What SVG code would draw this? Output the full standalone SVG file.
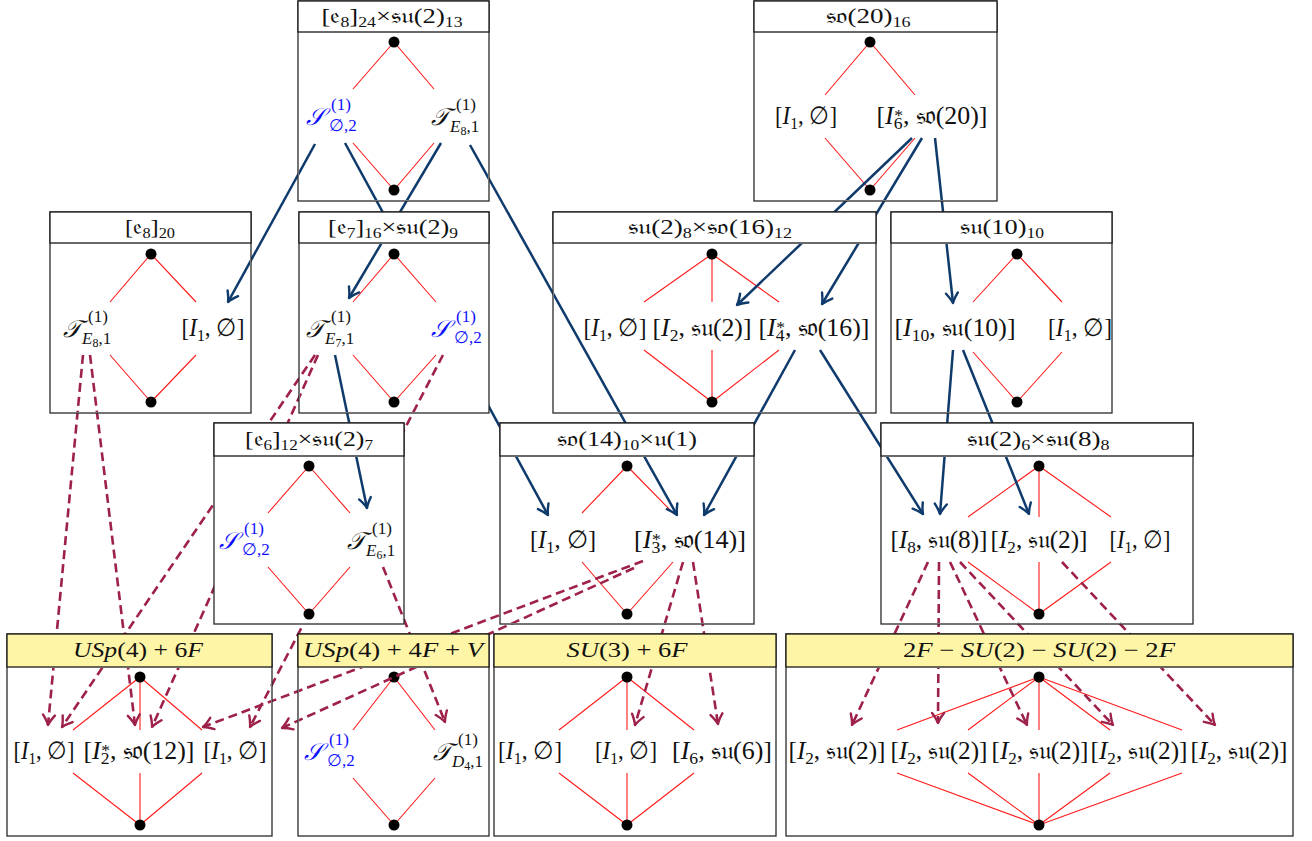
<svg xmlns="http://www.w3.org/2000/svg" width="1312" height="841" viewBox="0 0 1312 841">
<defs>
<style>
.bx{fill:#fff;stroke:#2a2a2a;stroke-width:1.3}
.hb{fill:#fff;stroke:#1a1a1a;stroke-width:1.3}
.hy{fill:#fff5a6;stroke:#1a1a1a;stroke-width:1.3}
.rl{stroke:#ff1a1a;stroke-width:1.1;fill:none}
.dt{fill:#000}
text{font-family:"Liberation Serif","DejaVu Serif",serif;fill:#111}
.hd{font-size:21px;text-anchor:middle}
.lb{font-size:25px;text-anchor:middle}
.i{font-style:italic}
.s{font-size:14px}
.ss{font-size:17px}
.me{font-size:24px;font-style:italic;text-anchor:end}
.sc{font-size:17px;text-anchor:start}
.bl{fill:#1010ff}
.cb{stroke:#0f3a6c;stroke-width:2.5;fill:none;marker-end:url(#ahb)}
.cd{stroke:#9d2148;stroke-width:2.6;fill:none;stroke-dasharray:9 5;marker-end:url(#ahd)}
</style>
<marker id="ahb" markerUnits="userSpaceOnUse" orient="auto" overflow="visible" refX="0" refY="0" markerWidth="14" markerHeight="14">
<path d="M-10,-6 Q-4,-1.5 0,0 Q-4,1.5 -10,6" fill="none" stroke="#0f3a6c" stroke-width="2.4" stroke-linecap="round" stroke-linejoin="round"/>
</marker>
<marker id="ahd" markerUnits="userSpaceOnUse" orient="auto" overflow="visible" refX="0" refY="0" markerWidth="14" markerHeight="14">
<path d="M-10,-6 Q-4,-1.5 0,0 Q-4,1.5 -10,6" fill="none" stroke="#9d2148" stroke-width="2.4" stroke-linecap="round" stroke-linejoin="round"/>
</marker>
<clipPath id="cpAll">
<rect x="299" y="33" width="189" height="167"/>
<rect x="755" y="33" width="241" height="167"/>
<rect x="51" y="244" width="199" height="168"/>
<rect x="554" y="244" width="321" height="168"/>
<rect x="892" y="244" width="219" height="168"/>
<rect x="501" y="457" width="252" height="166"/>
<rect x="882" y="457" width="310" height="166"/>
<rect x="8" y="668" width="263" height="167"/>
<rect x="299" y="668" width="189" height="167"/>
<rect x="495" y="668" width="280" height="167"/>
<rect x="787" y="668" width="505" height="167"/>
</clipPath>
<clipPath id="cpE7"><rect x="300" y="244" width="188" height="168"/></clipPath>
<clipPath id="cpE6"><rect x="215" y="457" width="188" height="166"/></clipPath>
</defs>
<rect width="1312" height="841" fill="#fff"/>

<g id="connectors">
<path id="b1" class="cb" d="M315,144L228,302"/>
<path id="b2" class="cb" d="M345,143L548,515"/>
<path id="b3" class="cb" d="M441,143L349,298"/>
<path id="b4" class="cb" d="M470,145L677,515"/>
<path id="b5" class="cb" d="M912,138L737,305"/>
<path id="b6" class="cb" d="M922,138L822,304"/>
<path id="b7" class="cb" d="M935,138L953,303"/>
<path id="b8" class="cb" d="M795,350L704,515"/>
<path id="b9" class="cb" d="M820,350L923,514"/>
<path id="b10" class="cb" d="M953,350L940,514"/>
<path id="b11" class="cb" d="M963,350L1029,514"/>
<path id="b12" class="cb" d="M335,355L367,508"/>
<path id="d1" class="cd" d="M83,355L48,725"/>
<path id="d2" class="cd" d="M90,355L135,725"/>
<path id="d3" class="cd" d="M315,355L62,727"/>
<path id="d4" class="cd" d="M318,355L152,727"/>
<path id="d5" class="cd" d="M443,355L250,727"/>
<path id="d6" class="cd" d="M383,567L445,722"/>
<path id="d7" class="cd" d="M643,561L203,727"/>
<path id="d8" class="cd" d="M634,568L282,728"/>
<path id="d9" class="cd" d="M683,562L635,725"/>
<path id="d10" class="cd" d="M693,562L718,724"/>
<path id="d11" class="cd" d="M928,562L852,725"/>
<path id="d12" class="cd" d="M939,562L938,723"/>
<path id="d13" class="cd" d="M950,562L1027,725"/>
<path id="d14" class="cd" d="M960,562L1113,725"/>
<path id="d15" class="cd" d="M1062,562L1215,725"/>
</g>

<g id="n-e8su2">
<rect class="bx" x="298" y="1" width="191" height="200"/>
<rect class="hb" x="298" y="1" width="191" height="31"/>
<text class="hd" x="392" y="23" textLength="141" lengthAdjust="spacingAndGlyphs">[𝔢<tspan class="s" dy="4">8</tspan><tspan dy="-4">]</tspan><tspan class="s" dy="4">24</tspan><tspan dy="-4">×𝔰𝔲(2)</tspan><tspan class="s" dy="4">13</tspan></text>
<path class="rl" d="M394,42L353,89M394,42L434,89M353,143L394,190M434,143L394,190"/>
<circle class="dt" cx="394" cy="42" r="5.5"/><circle class="dt" cx="394" cy="190" r="5.5"/>
<text class="me bl" x="325" y="125">𝒮</text><text class="sc bl" x="331" y="110">(1)</text><text class="sc bl" x="329" y="131">∅,2</text>
<text class="me" x="449" y="125">𝒯</text><text class="sc" x="456" y="110">(1)</text><text class="sc" x="450" y="132"><tspan class="i">E</tspan><tspan font-size="12" dy="3">8</tspan><tspan dy="-3">,1</tspan></text>
</g>

<g id="n-so20">
<rect class="bx" x="754" y="1" width="243" height="200"/>
<rect class="hb" x="754" y="1" width="243" height="31"/>
<text class="hd" x="868" y="23" textLength="85" lengthAdjust="spacingAndGlyphs">𝔰𝔬(20)<tspan class="s" dy="4">16</tspan></text>
<path class="rl" d="M870,42L825,95M870,42L915,95M825,138L870,190M915,138L870,190"/>
<circle class="dt" cx="870" cy="42" r="5.5"/><circle class="dt" cx="870" cy="190" r="5.5"/>
<text class="lb" x="806" y="124" textLength="62" lengthAdjust="spacingAndGlyphs">[<tspan class="i">I</tspan><tspan class="ss" dy="5">1</tspan><tspan dy="-5">, ∅]</tspan></text>
<text class="lb" x="932" y="124" textLength="111" lengthAdjust="spacingAndGlyphs">[<tspan class="i">I</tspan><tspan class="ss" dy="5">6</tspan><tspan class="ss" dx="-8" dy="-8">*</tspan><tspan dy="3">, 𝔰𝔬(20)]</tspan></text>
</g>

<g id="n-e8">
<rect class="bx" x="50" y="212" width="201" height="201"/>
<rect class="hb" x="50" y="212" width="201" height="31"/>
<text class="hd" x="150" y="234" textLength="50" lengthAdjust="spacingAndGlyphs">[𝔢<tspan class="s" dy="4">8</tspan><tspan dy="-4">]</tspan><tspan class="s" dy="4">20</tspan></text>
<path class="rl" d="M151,254L110,302M151,254L196,302M110,355L151,402M196,355L151,402"/>
<circle class="dt" cx="151" cy="254" r="5.5"/><circle class="dt" cx="151" cy="402" r="5.5"/>
<text class="me" x="81" y="337">𝒯</text><text class="sc" x="88" y="322">(1)</text><text class="sc" x="82" y="344"><tspan class="i">E</tspan><tspan font-size="12" dy="3">8</tspan><tspan dy="-3">,1</tspan></text>
<text class="lb" x="213" y="336" textLength="63" lengthAdjust="spacingAndGlyphs">[<tspan class="i">I</tspan><tspan class="ss" dy="5">1</tspan><tspan dy="-5">, ∅]</tspan></text>
</g>

<g id="n-e7">
<rect class="bx" x="299" y="212" width="190" height="201"/>
<rect class="hb" x="299" y="212" width="190" height="31"/>
<text class="hd" x="393" y="234" textLength="130" lengthAdjust="spacingAndGlyphs">[𝔢<tspan class="s" dy="4">7</tspan><tspan dy="-4">]</tspan><tspan class="s" dy="4">16</tspan><tspan dy="-4">×𝔰𝔲(2)</tspan><tspan class="s" dy="4">9</tspan></text>
<path class="rl" d="M394,254L353,302M394,254L436,302M353,355L394,402M436,355L394,402"/>
<circle class="dt" cx="394" cy="254" r="5.5"/><circle class="dt" cx="394" cy="402" r="5.5"/>
<text class="me" x="324" y="337">𝒯</text><text class="sc" x="331" y="322">(1)</text><text class="sc" x="325" y="344"><tspan class="i">E</tspan><tspan font-size="12" dy="3">7</tspan><tspan dy="-3">,1</tspan></text>
<text class="me bl" x="450" y="337">𝒮</text><text class="sc bl" x="456" y="322">(1)</text><text class="sc bl" x="454" y="343">∅,2</text>
</g>

<g id="n-su2so16">
<rect class="bx" x="553" y="212" width="323" height="201"/>
<rect class="hb" x="553" y="212" width="323" height="31"/>
<text class="hd" x="710" y="234" textLength="164" lengthAdjust="spacingAndGlyphs">𝔰𝔲(2)<tspan class="s" dy="4">8</tspan><tspan dy="-4">×𝔰𝔬(16)</tspan><tspan class="s" dy="4">12</tspan></text>
<path class="rl" d="M712,254L644,302M712,254V302M712,254L779,302M644,350L712,402M712,350V402M779,350L712,402"/>
<circle class="dt" cx="712" cy="254" r="5.5"/><circle class="dt" cx="712" cy="402" r="5.5"/>
<text class="lb" x="615" y="336" textLength="63" lengthAdjust="spacingAndGlyphs">[<tspan class="i">I</tspan><tspan class="ss" dy="5">1</tspan><tspan dy="-5">, ∅]</tspan></text>
<text class="lb" x="702" y="336" textLength="99" lengthAdjust="spacingAndGlyphs">[<tspan class="i">I</tspan><tspan class="ss" dy="5">2</tspan><tspan dy="-5">, 𝔰𝔲(2)]</tspan></text>
<text class="lb" x="814" y="336" textLength="111" lengthAdjust="spacingAndGlyphs">[<tspan class="i">I</tspan><tspan class="ss" dy="5">4</tspan><tspan class="ss" dx="-8" dy="-8">*</tspan><tspan dy="3">, 𝔰𝔬(16)]</tspan></text>
</g>

<g id="n-su10">
<rect class="bx" x="891" y="212" width="221" height="201"/>
<rect class="hb" x="891" y="212" width="221" height="31"/>
<text class="hd" x="1002" y="234" textLength="84" lengthAdjust="spacingAndGlyphs">𝔰𝔲(10)<tspan class="s" dy="4">10</tspan></text>
<path class="rl" d="M1017,254L973,302M1017,254L1062,302M973,352L1017,402M1062,352L1017,402"/>
<circle class="dt" cx="1017" cy="254" r="5.5"/><circle class="dt" cx="1017" cy="402" r="5.5"/>
<text class="lb" x="955" y="336" textLength="121" lengthAdjust="spacingAndGlyphs">[<tspan class="i">I</tspan><tspan class="ss" dy="5">10</tspan><tspan dy="-5">, 𝔰𝔲(10)]</tspan></text>
<text class="lb" x="1080" y="336" textLength="64" lengthAdjust="spacingAndGlyphs">[<tspan class="i">I</tspan><tspan class="ss" dy="5">1</tspan><tspan dy="-5">, ∅]</tspan></text>
</g>

<g id="n-e6">
<rect class="bx" x="214" y="423" width="190" height="201"/>
<rect class="hb" x="214" y="423" width="190" height="33"/>
<text class="hd" x="309" y="446" textLength="128" lengthAdjust="spacingAndGlyphs">[𝔢<tspan class="s" dy="4">6</tspan><tspan dy="-4">]</tspan><tspan class="s" dy="4">12</tspan><tspan dy="-4">×𝔰𝔲(2)</tspan><tspan class="s" dy="4">7</tspan></text>
<path class="rl" d="M309,466L268,513M309,466L350,513M268,567L309,614M350,567L309,614"/>
<circle class="dt" cx="309" cy="466" r="5.5"/><circle class="dt" cx="309" cy="614" r="5.5"/>
<text class="me bl" x="238" y="549">𝒮</text><text class="sc bl" x="244" y="534">(1)</text><text class="sc bl" x="242" y="555">∅,2</text>
<text class="me" x="365" y="549">𝒯</text><text class="sc" x="372" y="534">(1)</text><text class="sc" x="366" y="556"><tspan class="i">E</tspan><tspan font-size="12" dy="3">6</tspan><tspan dy="-3">,1</tspan></text>
</g>

<g id="n-so14">
<rect class="bx" x="500" y="423" width="254" height="201"/>
<rect class="hb" x="500" y="423" width="254" height="33"/>
<text class="hd" x="627" y="446" textLength="140" lengthAdjust="spacingAndGlyphs">𝔰𝔬(14)<tspan class="s" dy="4">10</tspan><tspan dy="-4">×𝔲(1)</tspan></text>
<path class="rl" d="M627,466L582,513M627,466L673,513M582,562L627,614M673,562L627,614"/>
<circle class="dt" cx="627" cy="466" r="5.5"/><circle class="dt" cx="627" cy="614" r="5.5"/>
<text class="lb" x="563" y="548" textLength="66" lengthAdjust="spacingAndGlyphs">[<tspan class="i">I</tspan><tspan class="ss" dy="5">1</tspan><tspan dy="-5">, ∅]</tspan></text>
<text class="lb" x="690" y="548" textLength="112" lengthAdjust="spacingAndGlyphs">[<tspan class="i">I</tspan><tspan class="ss" dy="5">3</tspan><tspan class="ss" dx="-8" dy="-8">*</tspan><tspan dy="3">, 𝔰𝔬(14)]</tspan></text>
</g>

<g id="n-su2su8">
<rect class="bx" x="881" y="423" width="312" height="201"/>
<rect class="hb" x="881" y="423" width="312" height="33"/>
<text class="hd" x="1038" y="446" textLength="143" lengthAdjust="spacingAndGlyphs">𝔰𝔲(2)<tspan class="s" dy="4">6</tspan><tspan dy="-4">×𝔰𝔲(8)</tspan><tspan class="s" dy="4">8</tspan></text>
<path class="rl" d="M1039,466L968,517M1039,466V517M1039,466L1111,517M968,562L1039,614M1039,562V614M1111,562L1039,614"/>
<circle class="dt" cx="1039" cy="466" r="5.5"/><circle class="dt" cx="1039" cy="614" r="5.5"/>
<text class="lb" x="939" y="548" textLength="97" lengthAdjust="spacingAndGlyphs">[<tspan class="i">I</tspan><tspan class="ss" dy="5">8</tspan><tspan dy="-5">, 𝔰𝔲(8)]</tspan></text>
<text class="lb" x="1039" y="548" textLength="97" lengthAdjust="spacingAndGlyphs">[<tspan class="i">I</tspan><tspan class="ss" dy="5">2</tspan><tspan dy="-5">, 𝔰𝔲(2)]</tspan></text>
<text class="lb" x="1140" y="548" textLength="61" lengthAdjust="spacingAndGlyphs">[<tspan class="i">I</tspan><tspan class="ss" dy="5">1</tspan><tspan dy="-5">, ∅]</tspan></text>
</g>

<g id="n-usp6">
<rect class="bx" x="7" y="634" width="265" height="202"/>
<rect class="hy" x="7" y="634" width="265" height="33"/>
<text class="hd" x="138" y="657" textLength="130" lengthAdjust="spacingAndGlyphs"><tspan class="i">USp</tspan>(4) + 6<tspan class="i">F</tspan></text>
<path class="rl" d="M140,677L73,730M140,677V730M140,677L202,730M73,773L140,825M140,773V825M202,773L140,825"/>
<circle class="dt" cx="140" cy="677" r="5.5"/><circle class="dt" cx="140" cy="825" r="5.5"/>
<text class="lb" x="44" y="759" textLength="61" lengthAdjust="spacingAndGlyphs">[<tspan class="i">I</tspan><tspan class="ss" dy="5">1</tspan><tspan dy="-5">, ∅]</tspan></text>
<text class="lb" x="139" y="759" textLength="111" lengthAdjust="spacingAndGlyphs">[<tspan class="i">I</tspan><tspan class="ss" dy="5">2</tspan><tspan class="ss" dx="-8" dy="-8">*</tspan><tspan dy="3">, 𝔰𝔬(12)]</tspan></text>
<text class="lb" x="235" y="759" textLength="63" lengthAdjust="spacingAndGlyphs">[<tspan class="i">I</tspan><tspan class="ss" dy="5">1</tspan><tspan dy="-5">, ∅]</tspan></text>
</g>

<g id="n-usp4">
<rect class="bx" x="298" y="634" width="191" height="202"/>
<rect class="hy" x="298" y="634" width="191" height="33"/>
<text class="hd" x="393" y="657" textLength="180" lengthAdjust="spacingAndGlyphs"><tspan class="i">USp</tspan>(4) + 4<tspan class="i">F</tspan> + <tspan class="i">V</tspan></text>
<path class="rl" d="M394,677L353,730M394,677L435,730M353,778L394,825M435,778L394,825"/>
<circle class="dt" cx="394" cy="677" r="5.5"/><circle class="dt" cx="394" cy="825" r="5.5"/>
<text class="me bl" x="323" y="760">𝒮</text><text class="sc bl" x="329" y="745">(1)</text><text class="sc bl" x="327" y="766">∅,2</text>
<text class="me" x="451" y="760">𝒯</text><text class="sc" x="458" y="745">(1)</text><text class="sc" x="452" y="767"><tspan class="i">D</tspan><tspan font-size="12" dy="3">4</tspan><tspan dy="-3">,1</tspan></text>
</g>

<g id="n-su3">
<rect class="bx" x="494" y="634" width="282" height="202"/>
<rect class="hy" x="494" y="634" width="282" height="33"/>
<text class="hd" x="627" y="657" textLength="121" lengthAdjust="spacingAndGlyphs"><tspan class="i">SU</tspan>(3) + 6<tspan class="i">F</tspan></text>
<path class="rl" d="M627,677L559,730M627,677V730M627,677L694,730M559,773L627,825M627,773V825M694,773L627,825"/>
<circle class="dt" cx="627" cy="677" r="5.5"/><circle class="dt" cx="627" cy="825" r="5.5"/>
<text class="lb" x="530" y="759" textLength="64" lengthAdjust="spacingAndGlyphs">[<tspan class="i">I</tspan><tspan class="ss" dy="5">1</tspan><tspan dy="-5">, ∅]</tspan></text>
<text class="lb" x="626" y="759" textLength="62" lengthAdjust="spacingAndGlyphs">[<tspan class="i">I</tspan><tspan class="ss" dy="5">1</tspan><tspan dy="-5">, ∅]</tspan></text>
<text class="lb" x="722" y="759" textLength="100" lengthAdjust="spacingAndGlyphs">[<tspan class="i">I</tspan><tspan class="ss" dy="5">6</tspan><tspan dy="-5">, 𝔰𝔲(6)]</tspan></text>
</g>

<g id="n-2f">
<rect class="bx" x="786" y="634" width="507" height="202"/>
<rect class="hy" x="786" y="634" width="507" height="33"/>
<text class="hd" x="1039" y="657" textLength="272" lengthAdjust="spacingAndGlyphs">2<tspan class="i">F</tspan> − <tspan class="i">SU</tspan>(2) − <tspan class="i">SU</tspan>(2) − 2<tspan class="i">F</tspan></text>
<path class="rl" d="M1039,677L897,730M1039,677L968,730M1039,677V730M1039,677L1110,730M1039,677L1182,730M897,773L1039,825M968,773L1039,825M1039,773V825M1110,773L1039,825M1182,773L1039,825"/>
<circle class="dt" cx="1039" cy="677" r="5.5"/><circle class="dt" cx="1039" cy="825" r="5.5"/>
<text class="lb" x="837" y="759" textLength="97" lengthAdjust="spacingAndGlyphs">[<tspan class="i">I</tspan><tspan class="ss" dy="5">2</tspan><tspan dy="-5">, 𝔰𝔲(2)]</tspan></text>
<text class="lb" x="939" y="759" textLength="97" lengthAdjust="spacingAndGlyphs">[<tspan class="i">I</tspan><tspan class="ss" dy="5">2</tspan><tspan dy="-5">, 𝔰𝔲(2)]</tspan></text>
<text class="lb" x="1040" y="759" textLength="97" lengthAdjust="spacingAndGlyphs">[<tspan class="i">I</tspan><tspan class="ss" dy="5">2</tspan><tspan dy="-5">, 𝔰𝔲(2)]</tspan></text>
<text class="lb" x="1139" y="759" textLength="97" lengthAdjust="spacingAndGlyphs">[<tspan class="i">I</tspan><tspan class="ss" dy="5">2</tspan><tspan dy="-5">, 𝔰𝔲(2)]</tspan></text>
<text class="lb" x="1239" y="759" textLength="97" lengthAdjust="spacingAndGlyphs">[<tspan class="i">I</tspan><tspan class="ss" dy="5">2</tspan><tspan dy="-5">, 𝔰𝔲(2)]</tspan></text>
</g>

<g id="connector-overlay">
<g clip-path="url(#cpAll)"><use href="#connectors"/></g>
<g clip-path="url(#cpE7)"><use href="#b3"/><use href="#b12"/><use href="#d3"/><use href="#d4"/><use href="#d5"/></g>
<g clip-path="url(#cpE6)"><use href="#b12"/><use href="#d6"/></g>
</g>
</svg>
